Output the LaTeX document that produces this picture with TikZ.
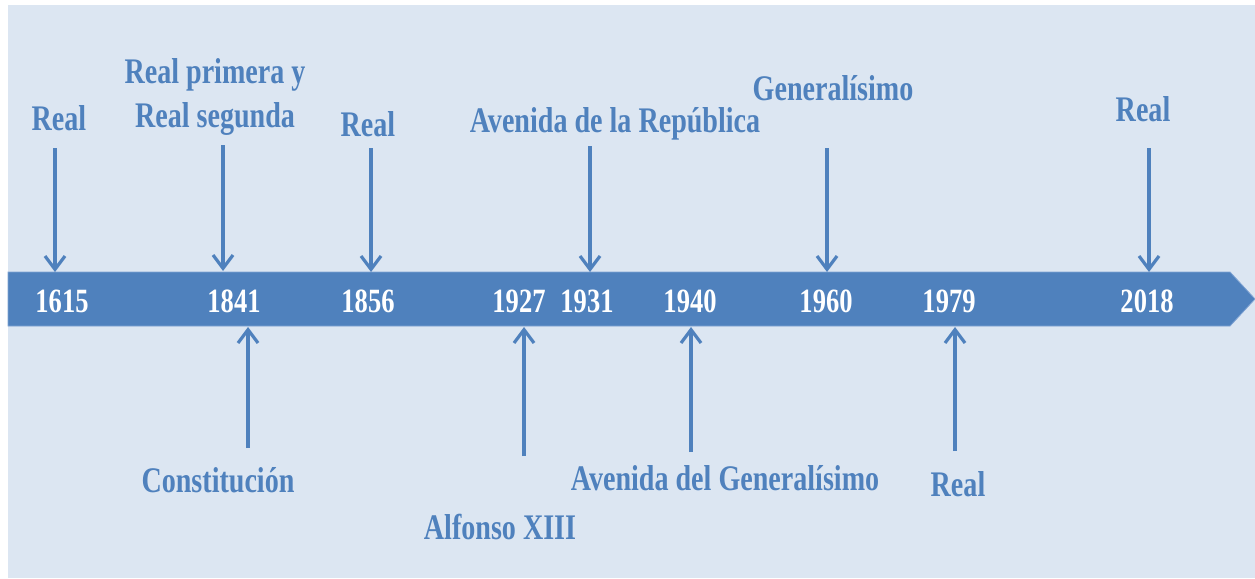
\documentclass[tikz,border=0pt]{standalone}
\usepackage{fontspec}
\setmainfont{Liberation Serif}[FakeStretch=0.78]
\usetikzlibrary{arrows.meta}
\definecolor{bgblue}{HTML}{DCE6F2}
\definecolor{barblue}{HTML}{4F81BD}
\definecolor{edgeblue}{HTML}{7FA3D3}
\tikzset{
  lbl/.style={anchor=base, text=barblue, font=\fontsize{27}{33}\selectfont\bfseries, inner sep=0pt, align=center},
  yr/.style={anchor=base, text=white, font=\fontsize{25.5}{30}\selectfont\bfseries, inner sep=0pt},
  conn/.style={draw=barblue, line width=2.4pt, -{Straight Barb[length=10pt,width=15pt,line width=2.4pt]}},
}
\begin{document}
\begin{tikzpicture}[x=0.75pt,y=-0.75pt]
\useasboundingbox (0,0) rectangle (1255,578);
\fill[white] (0,0) rectangle (1255,578);
\fill[bgblue] (8,5) rectangle (1255,578);
% bar
\path[fill=barblue, draw=edgeblue, line width=0.6pt] (8,272) -- (1230,272) -- (1255,299) -- (1230,326) -- (8,326) -- cycle;
% years
\node[yr] (y1615) at (62,312) {1615};
\node[yr] (y1841) at (234,312) {1841};
\node[yr] (y1856) at (368,312) {1856};
\node[yr] (y1927) at (519,312) {1927};
\node[yr] (y1931) at (587,312) {1931};
\node[yr] (y1940) at (690,312) {1940};
\node[yr] (y1960) at (826,312) {1960};
\node[yr] (y1979) at (949,312) {1979};
\node[yr] (y2018) at (1147,312) {2018};
% top labels
\node[lbl] (l1615) at (59,130) {Real};
\node[lbl] (l1841) at (215,127) {Real primera y\\Real segunda};
\node[lbl] (l1856) at (368,136) {Real};
\node[lbl] (l1931) at (615,132) {Avenida de la República};
\node[lbl] (l1960) at (833,100) {Generalísimo};
\node[lbl] (l2018) at (1143,121) {Real};
% bottom labels
\node[lbl] (b1841) at (218,492) {Constitución};
\node[lbl] (b1927) at (500,539) {Alfonso XIII};
\node[lbl] (b1940) at (725,490) {Avenida del Generalísimo};
\node[lbl] (b1979) at (958,496) {Real};
% connector ends
\coordinate (s1615) at (55,148);  \coordinate (e1615) at (55,272);
\coordinate (s1841) at (223,145); \coordinate (e1841) at (223,271);
\coordinate (s1856) at (371,148); \coordinate (e1856) at (371,272);
\coordinate (s1931) at (590,146); \coordinate (e1931) at (590,272);
\coordinate (s1960) at (827,148); \coordinate (e1960) at (827,272);
\coordinate (s2018) at (1149,148);\coordinate (e2018) at (1149,272);
\coordinate (u1841) at (248,448); \coordinate (f1841) at (248,327);
\coordinate (u1927) at (524,456); \coordinate (f1927) at (524,327);
\coordinate (u1940) at (691,452); \coordinate (f1940) at (691,327);
\coordinate (u1979) at (955,451); \coordinate (f1979) at (955,327);
\draw[conn] (s1615) -- (e1615);
\draw[conn] (s1841) -- (e1841);
\draw[conn] (s1856) -- (e1856);
\draw[conn] (s1931) -- (e1931);
\draw[conn] (s1960) -- (e1960);
\draw[conn] (s2018) -- (e2018);
\draw[conn] (u1841) -- (f1841);
\draw[conn] (u1927) -- (f1927);
\draw[conn] (u1940) -- (f1940);
\draw[conn] (u1979) -- (f1979);
\end{tikzpicture}
\end{document}
